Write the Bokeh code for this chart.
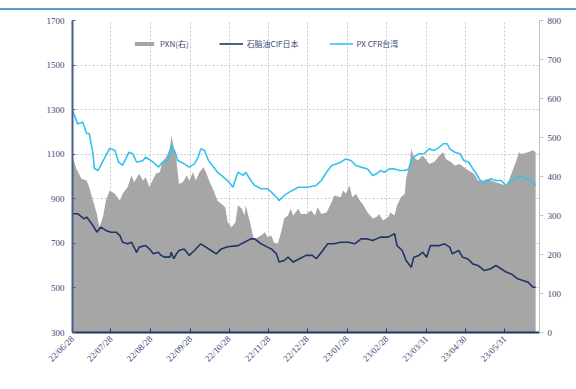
import math
import pandas as pd
from bokeh.plotting import figure
from bokeh.models import (Range1d, LinearAxis, FixedTicker, DatetimeTickFormatter,
                          Legend, LegendItem, Div)
from bokeh.layouts import column
from bokeh.embed import file_html
from bokeh.resources import INLINE

# ---- data -------------------------------------------------------------
tick_dates = ["2022-06-28", "2022-07-28", "2022-08-28", "2022-09-28", "2022-10-28",
              "2022-11-28", "2022-12-28", "2023-01-28", "2023-02-28", "2023-03-31",
              "2023-04-30", "2023-05-31"]

# PX CFR Taiwan (left axis, USD/t)
px_dates = ["2022-06-28", "2022-07-02", "2022-07-06", "2022-07-09", "2022-07-11", "2022-07-14",
            "2022-07-15", "2022-07-18", "2022-07-22", "2022-07-27", "2022-07-31", "2022-08-03",
            "2022-08-06", "2022-08-11", "2022-08-14", "2022-08-17", "2022-08-22", "2022-08-24",
            "2022-08-30", "2022-09-03", "2022-09-06", "2022-09-10", "2022-09-13", "2022-09-16",
            "2022-09-18", "2022-09-23", "2022-09-27", "2022-10-01", "2022-10-04", "2022-10-06",
            "2022-10-09", "2022-10-12", "2022-10-15", "2022-10-19", "2022-10-22", "2022-10-25",
            "2022-10-28", "2022-10-31", "2022-11-04", "2022-11-08", "2022-11-10", "2022-11-14",
            "2022-11-17", "2022-11-22", "2022-11-27", "2022-11-30", "2022-12-04", "2022-12-06",
            "2022-12-10", "2022-12-14", "2022-12-21", "2022-12-28", "2023-01-04", "2023-01-08",
            "2023-01-12", "2023-01-16", "2023-01-20", "2023-01-23", "2023-01-27", "2023-01-31",
            "2023-02-04", "2023-02-08", "2023-02-13", "2023-02-17", "2023-02-20", "2023-02-23",
            "2023-02-26", "2023-03-02", "2023-03-06", "2023-03-10", "2023-03-14", "2023-03-17",
            "2023-03-19", "2023-03-21", "2023-03-25", "2023-03-29", "2023-04-02", "2023-04-06",
            "2023-04-10", "2023-04-13", "2023-04-16", "2023-04-18", "2023-04-22", "2023-04-26",
            "2023-04-29", "2023-05-03", "2023-05-06", "2023-05-08", "2023-05-11", "2023-05-14",
            "2023-05-16", "2023-05-20", "2023-05-24", "2023-05-28", "2023-06-01", "2023-06-05",
            "2023-06-09", "2023-06-13", "2023-06-16", "2023-06-21", "2023-06-24"]
px_cfr = [1296, 1236, 1245, 1193, 1193, 1103,
          1036, 1027, 1072, 1126, 1118, 1064,
          1050, 1109, 1102, 1064, 1072, 1087,
          1064, 1042, 1064, 1072, 1139, 1109,
          1072, 1057, 1042, 1057, 1087, 1124,
          1117, 1072, 1049, 1019, 1005, 990,
          975, 952, 1019, 1005, 1019, 982,
          960, 945, 945, 930, 907, 892,
          915, 930, 952, 952, 960, 982,
          1019, 1049, 1057, 1064, 1079, 1072,
          1049, 1042, 1034, 1005, 1012, 1027,
          1019, 1034, 1034, 1027, 1027, 1034,
          1072, 1087, 1102, 1102, 1124, 1117,
          1132, 1147, 1147, 1124, 1109, 1102,
          1072, 1064, 1034, 1019, 990, 967,
          975, 990, 982, 982, 960, 982,
          990, 1005, 990, 982, 960]

# Naphtha CIF Japan (left axis, USD/t)
nap_dates = ["2022-06-28", "2022-07-02", "2022-07-07", "2022-07-09", "2022-07-14", "2022-07-17",
             "2022-07-20", "2022-07-24", "2022-07-28", "2022-08-01", "2022-08-04", "2022-08-06",
             "2022-08-10", "2022-08-13", "2022-08-17", "2022-08-19", "2022-08-24", "2022-08-27",
             "2022-08-30", "2022-09-03", "2022-09-05", "2022-09-08", "2022-09-12", "2022-09-13",
             "2022-09-15", "2022-09-17", "2022-09-19", "2022-09-23", "2022-09-27", "2022-10-01",
             "2022-10-06", "2022-10-10", "2022-10-14", "2022-10-18", "2022-10-22", "2022-10-27",
             "2022-11-04", "2022-11-09", "2022-11-14", "2022-11-17", "2022-11-22", "2022-11-27",
             "2022-11-30", "2022-12-04", "2022-12-06", "2022-12-10", "2022-12-13", "2022-12-17",
             "2022-12-22", "2022-12-27", "2023-01-01", "2023-01-04", "2023-01-08", "2023-01-13",
             "2023-01-18", "2023-01-23", "2023-01-29", "2023-02-03", "2023-02-08", "2023-02-13",
             "2023-02-17", "2023-02-23", "2023-03-01", "2023-03-06", "2023-03-08", "2023-03-12",
             "2023-03-15", "2023-03-19", "2023-03-21", "2023-03-25", "2023-03-28", "2023-03-31",
             "2023-04-03", "2023-04-10", "2023-04-14", "2023-04-18", "2023-04-20", "2023-04-25",
             "2023-04-28", "2023-05-02", "2023-05-06", "2023-05-10", "2023-05-15", "2023-05-20",
             "2023-05-24", "2023-05-28", "2023-06-01", "2023-06-05", "2023-06-10", "2023-06-14",
             "2023-06-18", "2023-06-22", "2023-06-24"]
nap_cif = [833, 833, 810, 818, 780, 750,
           773, 758, 750, 750, 735, 705,
           698, 705, 660, 683, 690, 675,
           653, 660, 646, 638, 638, 660,
           631, 653, 668, 675, 646, 668,
           698, 683, 668, 653, 675, 685,
           690, 705, 720, 720, 698, 683,
           675, 653, 616, 623, 638, 616,
           631, 646, 646, 631, 660, 698,
           698, 705, 705, 698, 720, 720,
           713, 728, 728, 743, 690, 668,
           623, 593, 638, 646, 660, 638,
           690, 690, 698, 683, 653, 668,
           638, 631, 608, 601, 578, 586,
           601, 586, 571, 563, 541, 533,
           526, 503, 503]

# PX - naphtha spread (right axis, USD/t)
pxn_dates = ["2022-06-28", "2022-07-01", "2022-07-05", "2022-07-09", "2022-07-11", "2022-07-14",
             "2022-07-17", "2022-07-19", "2022-07-22", "2022-07-24", "2022-07-27", "2022-07-31",
             "2022-08-04", "2022-08-06", "2022-08-10", "2022-08-13", "2022-08-15", "2022-08-19",
             "2022-08-22", "2022-08-24", "2022-08-27", "2022-08-30", "2022-09-01", "2022-09-04",
             "2022-09-06", "2022-09-09", "2022-09-12", "2022-09-13", "2022-09-15", "2022-09-17",
             "2022-09-19", "2022-09-22", "2022-09-25", "2022-09-27", "2022-09-30", "2022-10-02",
             "2022-10-05", "2022-10-08", "2022-10-10", "2022-10-13", "2022-10-16", "2022-10-19",
             "2022-10-22", "2022-10-25", "2022-10-27", "2022-10-30", "2022-11-02", "2022-11-04",
             "2022-11-07", "2022-11-09", "2022-11-10", "2022-11-13", "2022-11-16", "2022-11-17",
             "2022-11-22", "2022-11-25", "2022-11-27", "2022-11-30", "2022-12-02", "2022-12-05",
             "2022-12-08", "2022-12-10", "2022-12-13", "2022-12-15", "2022-12-17", "2022-12-21",
             "2022-12-23", "2022-12-27", "2022-12-31", "2023-01-03", "2023-01-05", "2023-01-08",
             "2023-01-12", "2023-01-16", "2023-01-18", "2023-01-23", "2023-01-25", "2023-01-27",
             "2023-01-30", "2023-02-01", "2023-02-04", "2023-02-07", "2023-02-09", "2023-02-13",
             "2023-02-17", "2023-02-20", "2023-02-22", "2023-02-25", "2023-03-01", "2023-03-03",
             "2023-03-06", "2023-03-08", "2023-03-11", "2023-03-14", "2023-03-15", "2023-03-18",
             "2023-03-19", "2023-03-21", "2023-03-24", "2023-03-28", "2023-03-31", "2023-04-02",
             "2023-04-06", "2023-04-10", "2023-04-13", "2023-04-15", "2023-04-19", "2023-04-22",
             "2023-04-26", "2023-04-29", "2023-05-03", "2023-05-07", "2023-05-10", "2023-05-14",
             "2023-05-18", "2023-05-20", "2023-05-24", "2023-05-28", "2023-06-01", "2023-06-03",
             "2023-06-06", "2023-06-09", "2023-06-11", "2023-06-13", "2023-06-18", "2023-06-22",
             "2023-06-24"]
pxn_spread = [450, 420, 394, 390, 373, 338,
              304, 270, 300, 338, 364, 356,
              338, 356, 373, 403, 385, 407,
              390, 398, 373, 394, 407, 411,
              437, 450, 471, 505, 475, 441,
              381, 385, 403, 390, 411, 390,
              411, 424, 411, 385, 364, 338,
              330, 321, 283, 270, 283, 326,
              317, 300, 326, 287, 244, 240,
              249, 257, 244, 249, 231, 227,
              262, 292, 300, 317, 300, 317,
              304, 304, 313, 300, 321, 304,
              308, 334, 351, 347, 364, 356,
              377, 347, 356, 338, 330, 308,
              292, 296, 304, 287, 296, 308,
              300, 326, 347, 356, 394, 433,
              471, 450, 441, 454, 441, 433,
              437, 454, 462, 445, 437, 428,
              432, 424, 415, 407, 390, 390,
              394, 390, 385, 381, 377, 390,
              415, 441, 462, 458, 462, 467,
              462]

x_start, x_end = "2022-06-28", "2023-06-27"
left_ticks = [300, 500, 700, 900, 1100, 1300, 1500, 1700]
right_ticks = [0, 100, 200, 300, 400, 500, 600, 700, 800]

# ---- styling ------------------------------------------------------------
FONT = "Liberation Sans Narrow"
LABEL = "#3a4775"
NAVY = "#1f3566"
SKY = "#33c3f0"
GREY = "#a6a6a6"

p = figure(width=576, height=379, x_axis_type="datetime",
           x_range=Range1d(pd.Timestamp(x_start), pd.Timestamp(x_end)),
           y_range=Range1d(300, 1700),
           output_backend="svg", toolbar_location=None,
           min_border_left=72, min_border_right=37, min_border_top=10, min_border_bottom=57,
           margin=0)
p.extra_y_ranges = {"right": Range1d(0, 800)}
p.outline_line_color = None
p.background_fill_color = "white"

# spread area on the right axis
area = p.varea(x=pd.to_datetime(pxn_dates), y1=0, y2=pxn_spread,
               fill_color=GREY, y_range_name="right")
nap = p.line(pd.to_datetime(nap_dates), nap_cif, line_color=NAVY, line_width=1.6)
pxl = p.line(pd.to_datetime(px_dates), px_cfr, line_color=SKY, line_width=1.6)

# axes
xa = p.xaxis[0]
xa.ticker = FixedTicker(ticks=[pd.Timestamp(d).value / 1e6 for d in tick_dates])
fmt = "%y/%m/%d"
xa.formatter = DatetimeTickFormatter(days=fmt, months=fmt, years=fmt, hours=fmt)
xa.major_label_orientation = math.pi / 4
xa.axis_line_color = NAVY
xa.axis_line_width = 2
xa.major_tick_in = 4
xa.major_tick_out = 0
xa.major_tick_line_color = NAVY
xa.minor_tick_line_color = None

ya = p.yaxis[0]
ya.ticker = FixedTicker(ticks=left_ticks)
ya.axis_line_color = "#4a5b8c"
ya.axis_line_width = 2
ya.major_tick_in = 3
ya.major_tick_out = 0
ya.major_tick_line_color = "#4a5b8c"
ya.minor_tick_line_color = None
ya.major_label_standoff = 8

ra = LinearAxis(y_range_name="right", ticker=FixedTicker(ticks=right_ticks))
ra.axis_line_color = "#c0c0c0"
ra.major_tick_line_color = "#c0c0c0"
ra.major_tick_in = 0
ra.major_tick_out = 4
ra.minor_tick_line_color = None
ra.major_label_standoff = 4
p.add_layout(ra, "right")

for ax in (xa, ya, ra):
    ax.major_label_text_font = FONT
    ax.major_label_text_font_size = "9px"
    ax.major_label_text_color = LABEL

# dashed grid
p.xgrid.ticker = xa.ticker
p.ygrid.ticker = ya.ticker
for g in (p.xgrid, p.ygrid):
    g.grid_line_color = "#c8c8c8"
    g.grid_line_dash = "2 2"
    g.grid_line_width = 1

legend = Legend(items=[LegendItem(label="PXN(右)", renderers=[area]),
                       LegendItem(label="石脑油CIF日本", renderers=[nap]),
                       LegendItem(label="PX CFR台湾", renderers=[pxl])],
                orientation="horizontal", location=(60, 283),
                glyph_width=24, glyph_height=5, label_standoff=4, spacing=30,
                padding=0, margin=0, border_line_color=None,
                background_fill_alpha=0,
                label_text_font="Noto Sans CJK SC", label_text_font_size="8px",
                label_text_color=LABEL)
p.add_layout(legend)

top_rule = Div(text="", width=576, height=10, margin=0,
               styles={"border-bottom": "2px solid #5b9bd5", "box-sizing": "border-box"})

layout = column(top_rule, p, spacing=0, margin=0)
open("out.html", "w").write(file_html(layout, INLINE))
